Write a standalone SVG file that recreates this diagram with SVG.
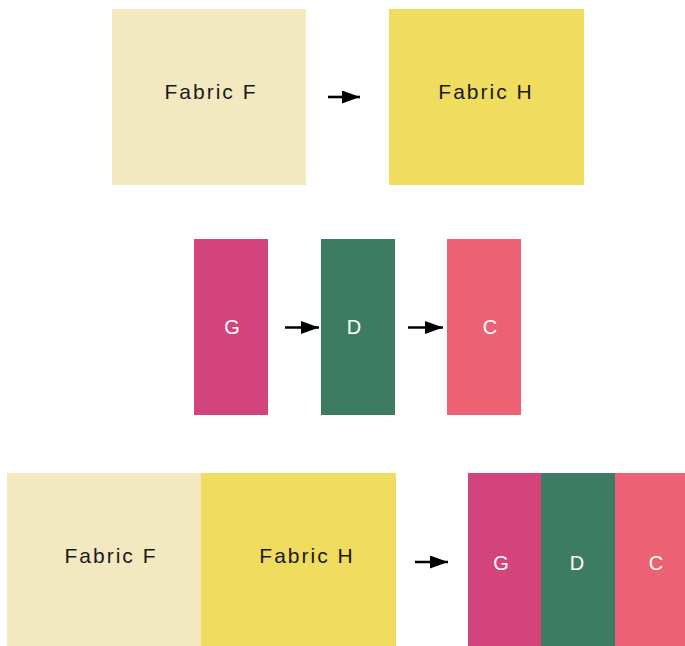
<svg xmlns="http://www.w3.org/2000/svg" width="685" height="646" viewBox="0 0 685 646">
<style>
.lbl{font-family:"Liberation Sans",Arial,sans-serif;font-size:21px;letter-spacing:2px;fill:#1a1a1a;text-anchor:middle;dominant-baseline:central}
.ltr{font-family:"Liberation Sans",Arial,sans-serif;font-size:20px;fill:#ffffff;text-anchor:middle;dominant-baseline:central}
.f{fill:#F3E9C1}.h{fill:#F0DC5E}.g{fill:#D3437C}.d{fill:#3D7C62}.c{fill:#EC6274}
.arr{stroke:#000;stroke-width:2.6;fill:none;marker-end:url(#ah)}
</style>
<defs>
<marker id="ah" markerUnits="userSpaceOnUse" markerWidth="18" markerHeight="13" refX="18" refY="6.5" orient="auto">
<path d="M0,0 L18,6.5 L0,13 Z" fill="#000"/>
</marker>
</defs>
<rect width="685" height="646" fill="#fff"/>
<g id="top-fabric-f"><rect class="f" x="112" y="9" width="194" height="176"/><text class="lbl" x="211" y="91">Fabric F</text></g>
<g id="top-fabric-h"><rect class="h" x="389" y="9" width="195" height="176"/><text class="lbl" x="486" y="91">Fabric H</text></g>
<g id="mid-g"><rect class="g" x="194" y="239" width="74" height="176"/><text class="ltr" x="232" y="327">G</text></g>
<g id="mid-d"><rect class="d" x="321" y="239" width="74" height="176"/><text class="ltr" x="354" y="327">D</text></g>
<g id="mid-c"><rect class="c" x="447" y="239" width="74" height="176"/><text class="ltr" x="490" y="327">C</text></g>
<g id="bot-fabric-f"><rect class="f" x="7" y="473" width="194" height="173"/><text class="lbl" x="111" y="555">Fabric F</text></g>
<g id="bot-fabric-h"><rect class="h" x="201" y="473" width="195" height="173"/><text class="lbl" x="307" y="555">Fabric H</text></g>
<g id="bot-g"><rect class="g" x="468" y="473" width="73" height="173"/><text class="ltr" x="501" y="563">G</text></g>
<g id="bot-d"><rect class="d" x="541" y="473" width="74" height="173"/><text class="ltr" x="577" y="563">D</text></g>
<g id="bot-c"><rect class="c" x="615" y="473" width="70" height="173"/><text class="ltr" x="656" y="563">C</text></g>
<g id="connectors">
<line class="arr" x1="328" y1="97" x2="360" y2="97"/>
<line class="arr" x1="285" y1="327.5" x2="319" y2="327.5"/>
<line class="arr" x1="408" y1="327.5" x2="443" y2="327.5"/>
<line class="arr" x1="415" y1="562" x2="448" y2="562"/>
</g>
</svg>
